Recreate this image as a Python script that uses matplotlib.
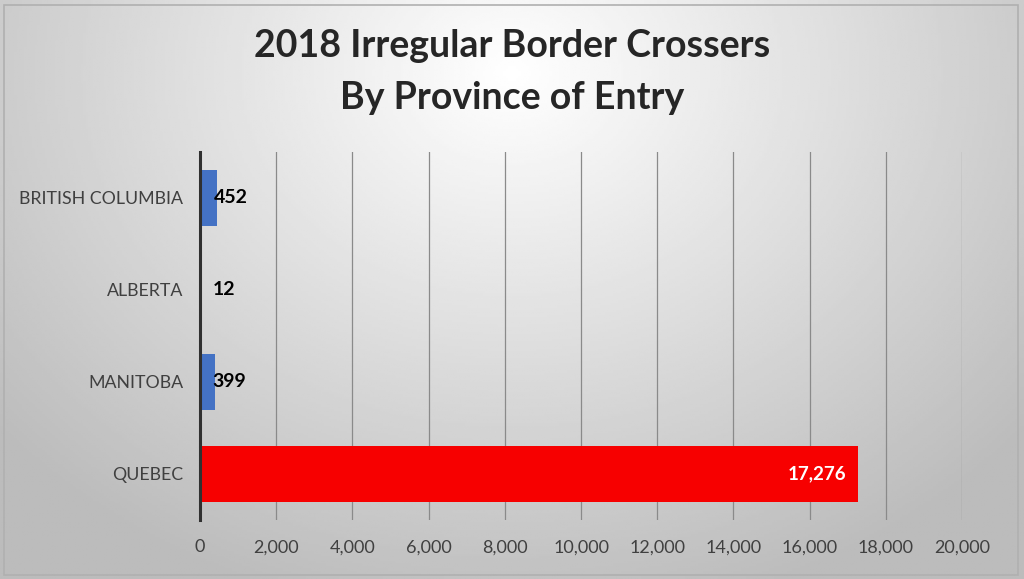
import matplotlib.pyplot as plt
import numpy as np
from matplotlib.patches import Rectangle

provinces = ["BRITISH COLUMBIA", "ALBERTA", "MANITOBA", "QUEBEC"]
crossers = [452, 12, 399, 17276]
bar_colors = ["#4472C4", "#4472C4", "#4472C4", "#F70000"]
x_ticks = list(range(0, 20001, 2000))

plt.rcParams["font.family"] = ["Lato", "DejaVu Sans"]

fig = plt.figure(figsize=(10.24, 5.79), dpi=100)

# radial grey gradient behind everything
bg = fig.add_axes([0, 0, 1, 1], zorder=-10)
gx, gy = np.meshgrid(np.linspace(-1, 1, 400), np.linspace(-1, 1, 240))
r = np.sqrt(((gx - 0.0) / 1.1) ** 2 + ((gy + 0.75) / 1.6) ** 2)
shade = 1.0 - 0.22 * np.clip(r, 0, 1.2)
bg.imshow(shade, cmap="gray", vmin=0, vmax=1, aspect="auto", extent=[0, 1, 0, 1])
bg.add_patch(Rectangle((0.004, 0.007), 0.99, 0.985, fill=False, ec="#b0b0b0", lw=1.2))
bg.set_xlim(0, 1)
bg.set_ylim(0, 1)
bg.axis("off")

ax = fig.add_axes([0.1953, 0.102, 0.7442, 0.6355])
ax.patch.set_alpha(0)

ypos = np.arange(len(provinces))
bars = ax.barh(ypos, crossers, height=0.6, color=bar_colors, zorder=3)
ax.set_ylim(len(provinces) - 0.5, -0.5)
ax.set_xlim(0, 20000)
ax.set_yticks(ypos)
ax.set_yticklabels(provinces, fontsize=12.8, color="#404040")
ax.set_xticks(x_ticks)
ax.set_xticklabels([f"{v:,}" for v in x_ticks], fontsize=13, color="#404040")
ax.tick_params(length=0, pad=14)
ax.tick_params(axis="y", pad=12)

ax.grid(axis="x", color="#8a8a8a", lw=0.9, zorder=1)
for s in ["top", "right", "bottom"]:
    ax.spines[s].set_visible(False)
ax.spines["left"].set_color("#303030")
ax.spines["left"].set_linewidth(2.2)
ax.spines["left"].set_zorder(4)

for b, v in zip(bars, crossers):
    yc = b.get_y() + b.get_height() / 2
    if v > 5000:
        ax.text(v - 320, yc, f"{v:,}", ha="right", va="center", color="white",
                fontsize=13.5, fontweight="bold", zorder=5)
    else:
        ax.text(max(v - 100, 330), yc, f"{v:,}", ha="left", va="center", color="black",
                fontsize=14, fontweight="bold", zorder=5)

fig.text(0.5, 0.92, "2018 Irregular Border Crossers", ha="center", va="center",
         fontsize=27, fontweight="bold", color="#262626")
fig.text(0.5, 0.83, "By Province of Entry", ha="center", va="center",
         fontsize=27, fontweight="bold", color="#262626")

fig.savefig("out.png", dpi=100)
